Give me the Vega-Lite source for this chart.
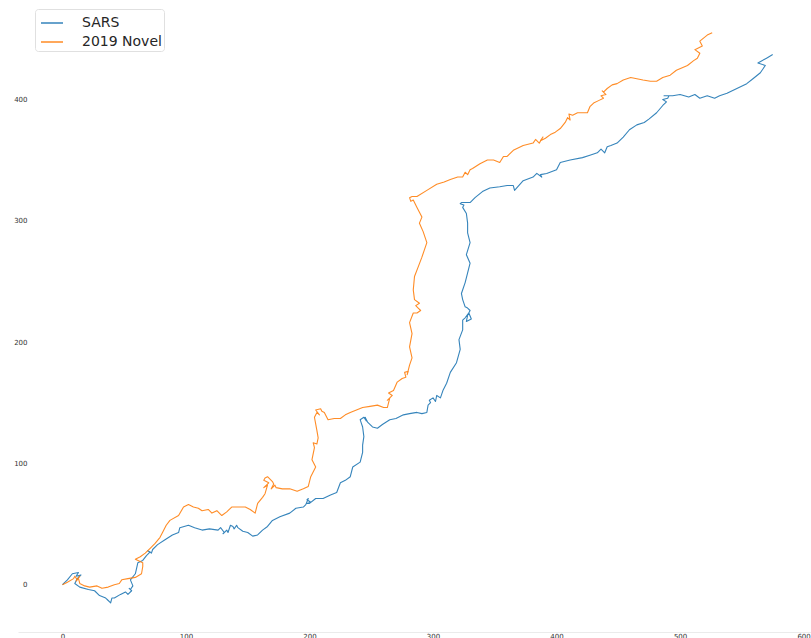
{
  "$schema": "https://vega.github.io/schema/vega-lite/v6.json",
  "autosize": "none",
  "width": 793,
  "height": 626,
  "padding": {"left": 18, "top": 6, "right": 0, "bottom": 6},
  "background": "white",
  "config": {
    "view": {"stroke": null},
    "font": "DejaVu Sans"
  },
  "datasets": {
    "walk": [
      {"s":"SARS","x":0,"y":0},{"s":"SARS","x":4,"y":4},{"s":"SARS","x":8,"y":9},{"s":"SARS","x":13,"y":10},{"s":"SARS","x":11,"y":7},
      {"s":"SARS","x":15,"y":8},{"s":"SARS","x":12,"y":5},{"s":"SARS","x":10,"y":1},
      {"s":"SARS","x":14,"y":-2},{"s":"SARS","x":21,"y":-4},{"s":"SARS","x":26,"y":-5},{"s":"SARS","x":30,"y":-9},{"s":"SARS","x":35,"y":-11},
      {"s":"SARS","x":38,"y":-14},{"s":"SARS","x":36,"y":-12},{"s":"SARS","x":39,"y":-15},{"s":"SARS","x":40,"y":-11},
      {"s":"SARS","x":42,"y":-11},{"s":"SARS","x":47,"y":-8},{"s":"SARS","x":51,"y":-6},{"s":"SARS","x":53,"y":-8},{"s":"SARS","x":56,"y":-5},
      {"s":"SARS","x":54,"y":-3},{"s":"SARS","x":55,"y":-4},
      {"s":"SARS","x":57,"y":-1},{"s":"SARS","x":55,"y":4},{"s":"SARS","x":59,"y":9},{"s":"SARS","x":61,"y":18},{"s":"SARS","x":65,"y":20},
      {"s":"SARS","x":68,"y":24},{"s":"SARS","x":71,"y":27},{"s":"SARS","x":69,"y":28},{"s":"SARS","x":72,"y":26},
      {"s":"SARS","x":73,"y":29},{"s":"SARS","x":77,"y":33},{"s":"SARS","x":83,"y":37},{"s":"SARS","x":89,"y":41},
      {"s":"SARS","x":94,"y":43},{"s":"SARS","x":95,"y":47},{"s":"SARS","x":102,"y":49},{"s":"SARS","x":107,"y":47},{"s":"SARS","x":113,"y":45},
      {"s":"SARS","x":119,"y":46},{"s":"SARS","x":126,"y":45},{"s":"SARS","x":128,"y":47},{"s":"SARS","x":131,"y":43},{"s":"SARS","x":130,"y":42},
      {"s":"SARS","x":133,"y":45},{"s":"SARS","x":134,"y":43},{"s":"SARS","x":136,"y":49},{"s":"SARS","x":138,"y":48},{"s":"SARS","x":139,"y":46},
      {"s":"SARS","x":141,"y":49},{"s":"SARS","x":142,"y":47},{"s":"SARS","x":146,"y":44},{"s":"SARS","x":150,"y":43},{"s":"SARS","x":154,"y":40},{"s":"SARS","x":158,"y":41},
      {"s":"SARS","x":162,"y":45},{"s":"SARS","x":166,"y":48},{"s":"SARS","x":170,"y":53},{"s":"SARS","x":176,"y":56},{"s":"SARS","x":184,"y":59},
      {"s":"SARS","x":189,"y":63},{"s":"SARS","x":195,"y":64},{"s":"SARS","x":197,"y":66},{"s":"SARS","x":199,"y":71},{"s":"SARS","x":198,"y":70},
      {"s":"SARS","x":201,"y":68},{"s":"SARS","x":198,"y":67},{"s":"SARS","x":200,"y":67},{"s":"SARS","x":205,"y":71},
      {"s":"SARS","x":211,"y":71},{"s":"SARS","x":217,"y":74},{"s":"SARS","x":222,"y":76},{"s":"SARS","x":225,"y":84},{"s":"SARS","x":229,"y":86},
      {"s":"SARS","x":233,"y":89},{"s":"SARS","x":235,"y":97},{"s":"SARS","x":241,"y":101},{"s":"SARS","x":243,"y":109},{"s":"SARS","x":243,"y":115},
      {"s":"SARS","x":244,"y":122},{"s":"SARS","x":243,"y":130},{"s":"SARS","x":242,"y":133},{"s":"SARS","x":241,"y":136},{"s":"SARS","x":244,"y":138},
      {"s":"SARS","x":246,"y":135},{"s":"SARS","x":245,"y":138},{"s":"SARS","x":247,"y":134},
      {"s":"SARS","x":251,"y":130},{"s":"SARS","x":255,"y":129},{"s":"SARS","x":259,"y":132},{"s":"SARS","x":265,"y":136},{"s":"SARS","x":270,"y":137},
      {"s":"SARS","x":276,"y":140},{"s":"SARS","x":281,"y":141},{"s":"SARS","x":287,"y":142},{"s":"SARS","x":291,"y":141},{"s":"SARS","x":295,"y":142},
      {"s":"SARS","x":296,"y":148},{"s":"SARS","x":298,"y":150},{"s":"SARS","x":297,"y":152},{"s":"SARS","x":300,"y":154},{"s":"SARS","x":302,"y":151},
      {"s":"SARS","x":303,"y":156},{"s":"SARS","x":306,"y":154},{"s":"SARS","x":308,"y":160},
      {"s":"SARS","x":311,"y":166},{"s":"SARS","x":314,"y":175},{"s":"SARS","x":319,"y":183},{"s":"SARS","x":322,"y":194},{"s":"SARS","x":321,"y":202},
      {"s":"SARS","x":324,"y":210},{"s":"SARS","x":324,"y":218},{"s":"SARS","x":326,"y":220},{"s":"SARS","x":329,"y":224},{"s":"SARS","x":331,"y":219},
      {"s":"SARS","x":327,"y":217},{"s":"SARS","x":328,"y":222},{"s":"SARS","x":330,"y":226},{"s":"SARS","x":328,"y":228},{"s":"SARS","x":326,"y":229},
      {"s":"SARS","x":324,"y":235},{"s":"SARS","x":323,"y":240},{"s":"SARS","x":326,"y":249},{"s":"SARS","x":328,"y":257},{"s":"SARS","x":330,"y":265},
      {"s":"SARS","x":327,"y":272},{"s":"SARS","x":330,"y":282},{"s":"SARS","x":328,"y":290},{"s":"SARS","x":328,"y":298},{"s":"SARS","x":327,"y":306},
      {"s":"SARS","x":324,"y":311},{"s":"SARS","x":325,"y":313},{"s":"SARS","x":322,"y":314},{"s":"SARS","x":323,"y":315},{"s":"SARS","x":330,"y":315},
      {"s":"SARS","x":334,"y":319},{"s":"SARS","x":340,"y":324},
      {"s":"SARS","x":346,"y":327},{"s":"SARS","x":354,"y":328},{"s":"SARS","x":360,"y":329},{"s":"SARS","x":365,"y":329},{"s":"SARS","x":366,"y":325},
      {"s":"SARS","x":373,"y":333},{"s":"SARS","x":381,"y":336},{"s":"SARS","x":384,"y":339},{"s":"SARS","x":388,"y":336},{"s":"SARS","x":387,"y":338},
      {"s":"SARS","x":392,"y":339},{"s":"SARS","x":400,"y":342},
      {"s":"SARS","x":403,"y":348},{"s":"SARS","x":411,"y":350},{"s":"SARS","x":421,"y":352},{"s":"SARS","x":427,"y":354},{"s":"SARS","x":433,"y":356},
      {"s":"SARS","x":436,"y":359},{"s":"SARS","x":439,"y":356},{"s":"SARS","x":441,"y":361},{"s":"SARS","x":444,"y":362},
      {"s":"SARS","x":449,"y":364},{"s":"SARS","x":454,"y":369},{"s":"SARS","x":459,"y":375},{"s":"SARS","x":465,"y":379},
      {"s":"SARS","x":471,"y":381},{"s":"SARS","x":475,"y":384},{"s":"SARS","x":481,"y":389},{"s":"SARS","x":486,"y":395},{"s":"SARS","x":489,"y":398},
      {"s":"SARS","x":486,"y":400},{"s":"SARS","x":490,"y":401},{"s":"SARS","x":491,"y":403},
      {"s":"SARS","x":487,"y":403},{"s":"SARS","x":494,"y":403},{"s":"SARS","x":500,"y":404},{"s":"SARS","x":507,"y":402},{"s":"SARS","x":512,"y":404},
      {"s":"SARS","x":516,"y":401},{"s":"SARS","x":522,"y":403},{"s":"SARS","x":528,"y":401},{"s":"SARS","x":532,"y":403},{"s":"SARS","x":538,"y":405},
      {"s":"SARS","x":546,"y":409},{"s":"SARS","x":554,"y":413},{"s":"SARS","x":559,"y":417},{"s":"SARS","x":565,"y":422},{"s":"SARS","x":569,"y":428},
      {"s":"SARS","x":563,"y":430},{"s":"SARS","x":570,"y":434},{"s":"SARS","x":575,"y":437},

      {"s":"2019 Novel","x":0,"y":0},{"s":"2019 Novel","x":4,"y":2},{"s":"2019 Novel","x":9,"y":5},{"s":"2019 Novel","x":10,"y":7},{"s":"2019 Novel","x":12,"y":4},
      {"s":"2019 Novel","x":14,"y":7},{"s":"2019 Novel","x":11,"y":3},{"s":"2019 Novel","x":13,"y":5},{"s":"2019 Novel","x":14,"y":1},
      {"s":"2019 Novel","x":18,"y":-1},{"s":"2019 Novel","x":22,"y":-2},{"s":"2019 Novel","x":28,"y":-1},{"s":"2019 Novel","x":32,"y":-3},{"s":"2019 Novel","x":37,"y":-2},
      {"s":"2019 Novel","x":42,"y":0},{"s":"2019 Novel","x":46,"y":1},{"s":"2019 Novel","x":48,"y":4},{"s":"2019 Novel","x":53,"y":5},{"s":"2019 Novel","x":59,"y":6},
      {"s":"2019 Novel","x":64,"y":9},{"s":"2019 Novel","x":65,"y":15},{"s":"2019 Novel","x":65,"y":18},{"s":"2019 Novel","x":59,"y":21},{"s":"2019 Novel","x":63,"y":23},
      {"s":"2019 Novel","x":67,"y":26},{"s":"2019 Novel","x":71,"y":30},{"s":"2019 Novel","x":75,"y":34},{"s":"2019 Novel","x":79,"y":39},{"s":"2019 Novel","x":81,"y":43},
      {"s":"2019 Novel","x":84,"y":49},{"s":"2019 Novel","x":87,"y":53},{"s":"2019 Novel","x":94,"y":57},{"s":"2019 Novel","x":98,"y":64},{"s":"2019 Novel","x":102,"y":66},
      {"s":"2019 Novel","x":106,"y":64},{"s":"2019 Novel","x":110,"y":63},{"s":"2019 Novel","x":113,"y":61},{"s":"2019 Novel","x":118,"y":62},{"s":"2019 Novel","x":121,"y":59},
      {"s":"2019 Novel","x":125,"y":61},{"s":"2019 Novel","x":129,"y":57},{"s":"2019 Novel","x":133,"y":60},{"s":"2019 Novel","x":137,"y":64},{"s":"2019 Novel","x":144,"y":64},
      {"s":"2019 Novel","x":148,"y":64},{"s":"2019 Novel","x":152,"y":62},{"s":"2019 Novel","x":156,"y":59},{"s":"2019 Novel","x":158,"y":67},{"s":"2019 Novel","x":162,"y":72},
      {"s":"2019 Novel","x":164,"y":75},{"s":"2019 Novel","x":166,"y":82},{"s":"2019 Novel","x":163,"y":80},{"s":"2019 Novel","x":167,"y":84},{"s":"2019 Novel","x":163,"y":86},
      {"s":"2019 Novel","x":164,"y":88},{"s":"2019 Novel","x":166,"y":89},{"s":"2019 Novel","x":168,"y":87},{"s":"2019 Novel","x":170,"y":85},{"s":"2019 Novel","x":171,"y":83},
      {"s":"2019 Novel","x":169,"y":79},{"s":"2019 Novel","x":172,"y":82},
      {"s":"2019 Novel","x":173,"y":80},{"s":"2019 Novel","x":178,"y":79},{"s":"2019 Novel","x":184,"y":79},{"s":"2019 Novel","x":190,"y":77},{"s":"2019 Novel","x":195,"y":79},
      {"s":"2019 Novel","x":199,"y":81},{"s":"2019 Novel","x":201,"y":89},{"s":"2019 Novel","x":205,"y":97},{"s":"2019 Novel","x":202,"y":103},{"s":"2019 Novel","x":204,"y":113},
      {"s":"2019 Novel","x":203,"y":117},{"s":"2019 Novel","x":206,"y":116},
      {"s":"2019 Novel","x":207,"y":121},{"s":"2019 Novel","x":206,"y":127},{"s":"2019 Novel","x":204,"y":138},{"s":"2019 Novel","x":206,"y":142},{"s":"2019 Novel","x":208,"y":140},
      {"s":"2019 Novel","x":205,"y":144},{"s":"2019 Novel","x":209,"y":145},{"s":"2019 Novel","x":210,"y":143},
      {"s":"2019 Novel","x":212,"y":142},{"s":"2019 Novel","x":215,"y":136},{"s":"2019 Novel","x":220,"y":137},{"s":"2019 Novel","x":225,"y":137},{"s":"2019 Novel","x":229,"y":140},
      {"s":"2019 Novel","x":233,"y":142},{"s":"2019 Novel","x":238,"y":144},{"s":"2019 Novel","x":243,"y":146},{"s":"2019 Novel","x":249,"y":147},{"s":"2019 Novel","x":255,"y":148},
      {"s":"2019 Novel","x":260,"y":146},{"s":"2019 Novel","x":263,"y":146},{"s":"2019 Novel","x":265,"y":154},{"s":"2019 Novel","x":263,"y":152},{"s":"2019 Novel","x":267,"y":156},
      {"s":"2019 Novel","x":264,"y":158},{"s":"2019 Novel","x":268,"y":160},{"s":"2019 Novel","x":271,"y":167},
      {"s":"2019 Novel","x":275,"y":170},{"s":"2019 Novel","x":278,"y":171},{"s":"2019 Novel","x":277,"y":175},{"s":"2019 Novel","x":280,"y":176},{"s":"2019 Novel","x":279,"y":173},
      {"s":"2019 Novel","x":281,"y":181},{"s":"2019 Novel","x":283,"y":187},{"s":"2019 Novel","x":281,"y":196},
      {"s":"2019 Novel","x":283,"y":207},{"s":"2019 Novel","x":281,"y":216},{"s":"2019 Novel","x":284,"y":224},{"s":"2019 Novel","x":287,"y":224},{"s":"2019 Novel","x":290,"y":226},
      {"s":"2019 Novel","x":288,"y":228},{"s":"2019 Novel","x":286,"y":230},{"s":"2019 Novel","x":289,"y":232},{"s":"2019 Novel","x":285,"y":235},
      {"s":"2019 Novel","x":284,"y":243},{"s":"2019 Novel","x":285,"y":254},{"s":"2019 Novel","x":288,"y":262},{"s":"2019 Novel","x":291,"y":270},{"s":"2019 Novel","x":293,"y":276},
      {"s":"2019 Novel","x":295,"y":282},{"s":"2019 Novel","x":292,"y":291},{"s":"2019 Novel","x":289,"y":298},{"s":"2019 Novel","x":291,"y":303},{"s":"2019 Novel","x":287,"y":311},
      {"s":"2019 Novel","x":284,"y":317},{"s":"2019 Novel","x":282,"y":316},{"s":"2019 Novel","x":281,"y":319},{"s":"2019 Novel","x":283,"y":320},{"s":"2019 Novel","x":287,"y":320},
      {"s":"2019 Novel","x":295,"y":325},{"s":"2019 Novel","x":303,"y":330},
      {"s":"2019 Novel","x":309,"y":332},{"s":"2019 Novel","x":314,"y":334},{"s":"2019 Novel","x":320,"y":336},{"s":"2019 Novel","x":324,"y":336},{"s":"2019 Novel","x":326,"y":340},
      {"s":"2019 Novel","x":328,"y":338},{"s":"2019 Novel","x":330,"y":342},
      {"s":"2019 Novel","x":332,"y":343},{"s":"2019 Novel","x":338,"y":347},{"s":"2019 Novel","x":344,"y":350},{"s":"2019 Novel","x":349,"y":350},{"s":"2019 Novel","x":354,"y":348},
      {"s":"2019 Novel","x":357,"y":353},{"s":"2019 Novel","x":360,"y":353},{"s":"2019 Novel","x":365,"y":358},{"s":"2019 Novel","x":373,"y":362},{"s":"2019 Novel","x":381,"y":364},
      {"s":"2019 Novel","x":383,"y":367},{"s":"2019 Novel","x":386,"y":364},{"s":"2019 Novel","x":389,"y":369},
      {"s":"2019 Novel","x":387,"y":366},{"s":"2019 Novel","x":391,"y":368},{"s":"2019 Novel","x":395,"y":371},{"s":"2019 Novel","x":399,"y":373},{"s":"2019 Novel","x":403,"y":376},
      {"s":"2019 Novel","x":407,"y":381},{"s":"2019 Novel","x":409,"y":385},{"s":"2019 Novel","x":411,"y":383},{"s":"2019 Novel","x":410,"y":388},{"s":"2019 Novel","x":413,"y":387},
      {"s":"2019 Novel","x":417,"y":389},{"s":"2019 Novel","x":421,"y":389},
      {"s":"2019 Novel","x":425,"y":389},{"s":"2019 Novel","x":427,"y":394},{"s":"2019 Novel","x":430,"y":397},{"s":"2019 Novel","x":434,"y":399},{"s":"2019 Novel","x":438,"y":401},
      {"s":"2019 Novel","x":436,"y":403},{"s":"2019 Novel","x":440,"y":404},{"s":"2019 Novel","x":437,"y":407},
      {"s":"2019 Novel","x":438,"y":406},{"s":"2019 Novel","x":441,"y":409},{"s":"2019 Novel","x":445,"y":412},{"s":"2019 Novel","x":449,"y":413},{"s":"2019 Novel","x":454,"y":416},
      {"s":"2019 Novel","x":460,"y":418},{"s":"2019 Novel","x":465,"y":417},{"s":"2019 Novel","x":470,"y":416},{"s":"2019 Novel","x":476,"y":415},{"s":"2019 Novel","x":481,"y":415},
      {"s":"2019 Novel","x":486,"y":418},{"s":"2019 Novel","x":492,"y":420},{"s":"2019 Novel","x":497,"y":424},{"s":"2019 Novel","x":506,"y":428},{"s":"2019 Novel","x":511,"y":432},
      {"s":"2019 Novel","x":514,"y":434},{"s":"2019 Novel","x":516,"y":438},{"s":"2019 Novel","x":512,"y":441},{"s":"2019 Novel","x":518,"y":444},{"s":"2019 Novel","x":516,"y":448},
      {"s":"2019 Novel","x":522,"y":453},{"s":"2019 Novel","x":526,"y":455}
    ]
  },
  "data": {"name": "walk"},
  "mark": {"type": "line", "strokeWidth": 1.1, "strokeJoin": "round", "opacity": 0.9},
  "encoding": {
    "x": {
      "field": "x", "type": "quantitative",
      "scale": {"domain": [-36, 606], "nice": false, "zero": false},
      "axis": {
        "title": null, "values": [0, 100, 200, 300, 400, 500, 600],
        "grid": false, "ticks": false, "domainColor": "#ebebeb", "domainWidth": 1,
        "labelFontSize": 7, "labelColor": "#333333", "labelPadding": 0, "labelFlush": false
      }
    },
    "y": {
      "field": "y", "type": "quantitative",
      "scale": {"domain": [-39, 477], "nice": false, "zero": false},
      "axis": {
        "title": null, "values": [0, 100, 200, 300, 400],
        "grid": false, "ticks": false, "domain": false, "offset": -12,
        "labelFontSize": 7, "labelColor": "#333333", "labelPadding": 3
      }
    },
    "color": {
      "field": "s", "type": "nominal",
      "scale": {"domain": ["SARS", "2019 Novel"], "range": ["#1f77b4", "#ff7f0e"]},
      "legend": {
        "title": null, "orient": "none", "legendX": 17, "legendY": 3,
        "symbolType": "stroke", "symbolSize": 484, "symbolStrokeWidth": 1.5, "symbolOffset": 3,
        "labelFontSize": 14, "labelColor": "#262626", "labelOffset": 18,
        "rowPadding": 0, "padding": 2,
        "fillColor": "white", "strokeColor": "#e0e0e0", "cornerRadius": 3
      }
    },
    "order": {"value": null}
  }
}
